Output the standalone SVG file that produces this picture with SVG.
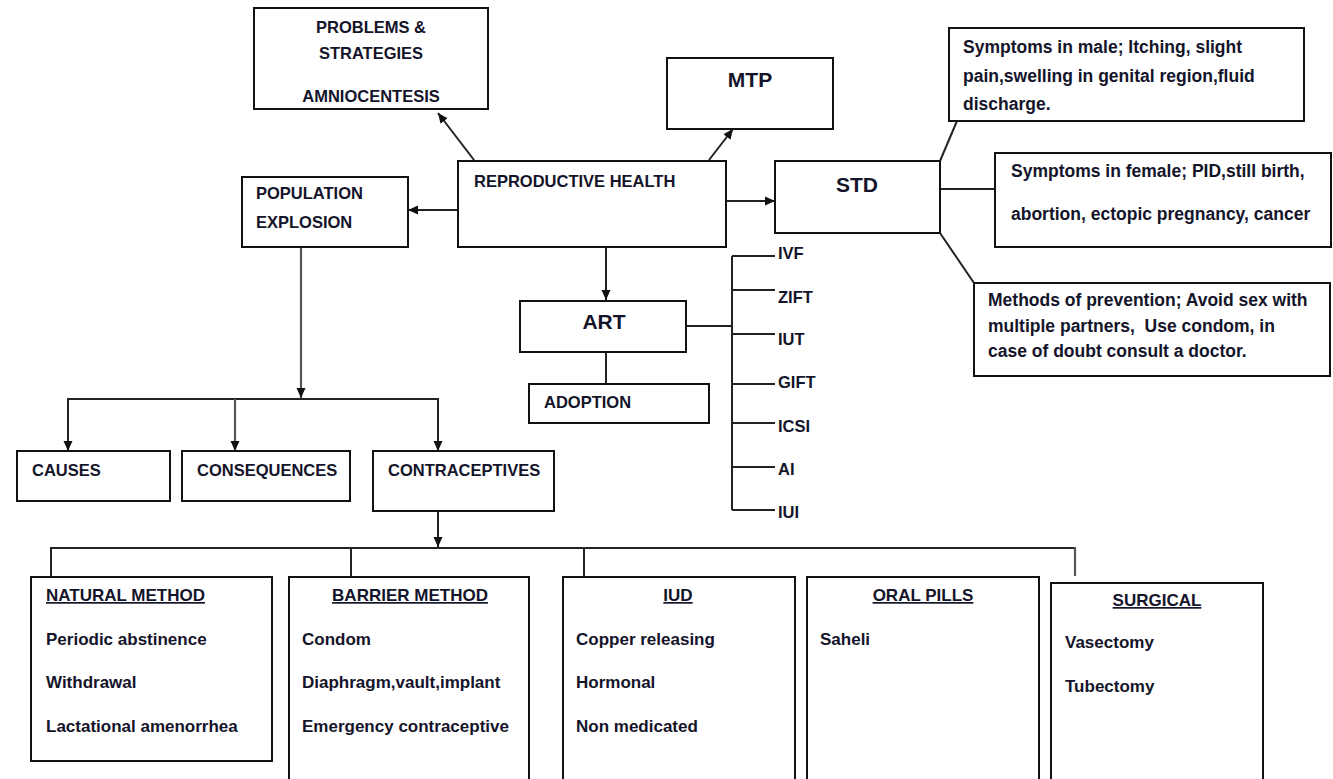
<svg xmlns="http://www.w3.org/2000/svg" width="1333" height="779" viewBox="0 0 1333 779">
<defs>
<style>
.box{fill:#fff;stroke:#111;stroke-width:2}
.ln{fill:none;stroke:#222;stroke-width:2}
.gl{fill:none;stroke:#555;stroke-width:2.2}
.t{font-family:"Liberation Sans",Arial,sans-serif;font-weight:bold;font-size:16.5px;fill:#14142a}
.b{font-size:17px}
.big{font-size:21px}
.d{font-size:17.5px}
.c{text-anchor:middle}
.u{text-decoration:underline}
</style>
<marker id="ah" markerUnits="userSpaceOnUse" markerWidth="10" markerHeight="10" refX="10" refY="5" orient="auto">
<path d="M0,0.5 L10,5 L0,9.5 z" fill="#111"/>
</marker>
</defs>
<rect width="1333" height="779" fill="#fff"/>

<g id="connectors">
<line class="ln" x1="474" y1="160" x2="438" y2="113" marker-end="url(#ah)"/>
<line class="ln" x1="709" y1="160" x2="733" y2="129" marker-end="url(#ah)"/>
<line class="ln" x1="726" y1="201" x2="775" y2="201" marker-end="url(#ah)"/>
<line class="ln" x1="458" y1="210" x2="408" y2="210" marker-end="url(#ah)"/>
<line class="ln" x1="606" y1="247" x2="606" y2="300" marker-end="url(#ah)"/>
<line class="ln" x1="606" y1="352" x2="606" y2="384"/>
<line class="ln" x1="686" y1="326" x2="732" y2="326"/>
<line class="ln" x1="732" y1="256" x2="732" y2="510"/>
<line class="ln" x1="732" y1="256" x2="775" y2="256"/>
<line class="ln" x1="732" y1="290" x2="775" y2="290"/>
<line class="ln" x1="732" y1="334" x2="775" y2="334"/>
<line class="ln" x1="732" y1="384" x2="775" y2="384"/>
<line class="ln" x1="732" y1="423" x2="775" y2="423"/>
<line class="ln" x1="732" y1="467" x2="775" y2="467"/>
<line class="ln" x1="732" y1="510" x2="775" y2="510"/>
<line class="ln" x1="940" y1="161" x2="957" y2="121"/>
<line class="ln" x1="940" y1="189" x2="995" y2="189"/>
<line class="ln" x1="940" y1="233" x2="974" y2="283"/>
<line class="gl" x1="301" y1="247" x2="301" y2="398" marker-end="url(#ah)"/>
<polyline class="ln" points="68,451 68,399 438,399 438,451" marker-end="url(#ah)"/>
<line class="ln" x1="68" y1="399" x2="68" y2="451" marker-end="url(#ah)"/>
<line class="gl" x1="235" y1="399" x2="235" y2="451" marker-end="url(#ah)"/>
<line class="ln" x1="438" y1="511" x2="438" y2="547" marker-end="url(#ah)"/>
<polyline class="ln" points="51,577 51,548 1075,548"/>
<line class="gl" x1="1075" y1="547" x2="1075" y2="576"/>
<line class="ln" x1="351" y1="548" x2="351" y2="577"/>
<line class="ln" x1="584" y1="548" x2="584" y2="577"/>
</g>

<g id="problems">
<rect class="box" x="254" y="8" width="234" height="101"/>
<text class="t c" x="371" y="33">PROBLEMS &amp;</text>
<text class="t c" x="371" y="59">STRATEGIES</text>
<text class="t c" x="371" y="102">AMNIOCENTESIS</text>
</g>

<g id="mtp">
<rect class="box" x="667" y="58" width="166" height="71"/>
<text class="t big c" x="750" y="87">MTP</text>
</g>

<g id="reproductive-health">
<rect class="box" x="458" y="161" width="268" height="86"/>
<text class="t" x="474" y="187">REPRODUCTIVE HEALTH</text>
</g>

<g id="population">
<rect class="box" x="242" y="177" width="166" height="70"/>
<text class="t" x="256" y="199">POPULATION</text>
<text class="t" x="256" y="228">EXPLOSION</text>
</g>

<g id="std">
<rect class="box" x="775" y="161" width="165" height="72"/>
<text class="t big c" x="857" y="192">STD</text>
</g>

<g id="std-male">
<rect class="box" x="949" y="28" width="355" height="93"/>
<text class="t d" x="963" y="53">Symptoms in male; Itching, slight</text>
<text class="t d" x="963" y="82">pain,swelling in genital region,fluid</text>
<text class="t d" x="963" y="110">discharge.</text>
</g>

<g id="std-female">
<rect class="box" x="995" y="153" width="336" height="94"/>
<text class="t d" x="1011" y="177">Symptoms in female; PID,still birth,</text>
<text class="t d" x="1011" y="220">abortion, ectopic pregnancy, cancer</text>
</g>

<g id="std-prevention">
<rect class="box" x="974" y="283" width="356" height="93"/>
<text class="t d" x="988" y="306">Methods of prevention; Avoid sex with</text>
<text class="t d" x="988" y="332" xml:space="preserve">multiple partners,  Use condom, in</text>
<text class="t d" x="988" y="357">case of doubt consult a doctor.</text>
</g>

<g id="art">
<rect class="box" x="520" y="301" width="166" height="51"/>
<text class="t big c" x="604" y="329">ART</text>
</g>

<g id="adoption">
<rect class="box" x="529" y="384" width="180" height="39"/>
<text class="t" x="544" y="408">ADOPTION</text>
</g>

<g id="art-list">
<text class="t" x="778" y="259">IVF</text>
<text class="t" x="778" y="303">ZIFT</text>
<text class="t" x="778" y="345">IUT</text>
<text class="t" x="778" y="388">GIFT</text>
<text class="t" x="778" y="432">ICSI</text>
<text class="t" x="778" y="475">AI</text>
<text class="t" x="778" y="518">IUI</text>
</g>

<g id="causes">
<rect class="box" x="17" y="451" width="153" height="50"/>
<text class="t" x="32" y="476">CAUSES</text>
</g>

<g id="consequences">
<rect class="box" x="182" y="451" width="168" height="50"/>
<text class="t" x="197" y="476">CONSEQUENCES</text>
</g>

<g id="contraceptives">
<rect class="box" x="373" y="451" width="181" height="60"/>
<text class="t" x="388" y="476">CONTRACEPTIVES</text>
</g>

<g id="natural">
<rect class="box" x="31" y="577" width="241" height="184"/>
<text class="t b u" x="46" y="601">NATURAL METHOD</text>
<text class="t b" x="46" y="645">Periodic abstinence</text>
<text class="t b" x="46" y="688">Withdrawal</text>
<text class="t b" x="46" y="732">Lactational amenorrhea</text>
</g>

<g id="barrier">
<rect class="box" x="289" y="577" width="240" height="220"/>
<text class="t b u c" x="410" y="601">BARRIER METHOD</text>
<text class="t b" x="302" y="645">Condom</text>
<text class="t b" x="302" y="688">Diaphragm,vault,implant</text>
<text class="t b" x="302" y="732">Emergency contraceptive</text>
</g>

<g id="iud">
<rect class="box" x="563" y="577" width="232" height="220"/>
<text class="t b u c" x="678" y="601">IUD</text>
<text class="t b" x="576" y="645">Copper releasing</text>
<text class="t b" x="576" y="688">Hormonal</text>
<text class="t b" x="576" y="732">Non medicated</text>
</g>

<g id="oral-pills">
<rect class="box" x="807" y="577" width="232" height="220"/>
<text class="t b u c" x="923" y="601">ORAL PILLS</text>
<text class="t b" x="820" y="645">Saheli</text>
</g>

<g id="surgical">
<rect class="box" x="1051" y="583" width="212" height="220"/>
<text class="t b u c" x="1157" y="606">SURGICAL</text>
<text class="t b" x="1065" y="648">Vasectomy</text>
<text class="t b" x="1065" y="692">Tubectomy</text>
</g>
</svg>
